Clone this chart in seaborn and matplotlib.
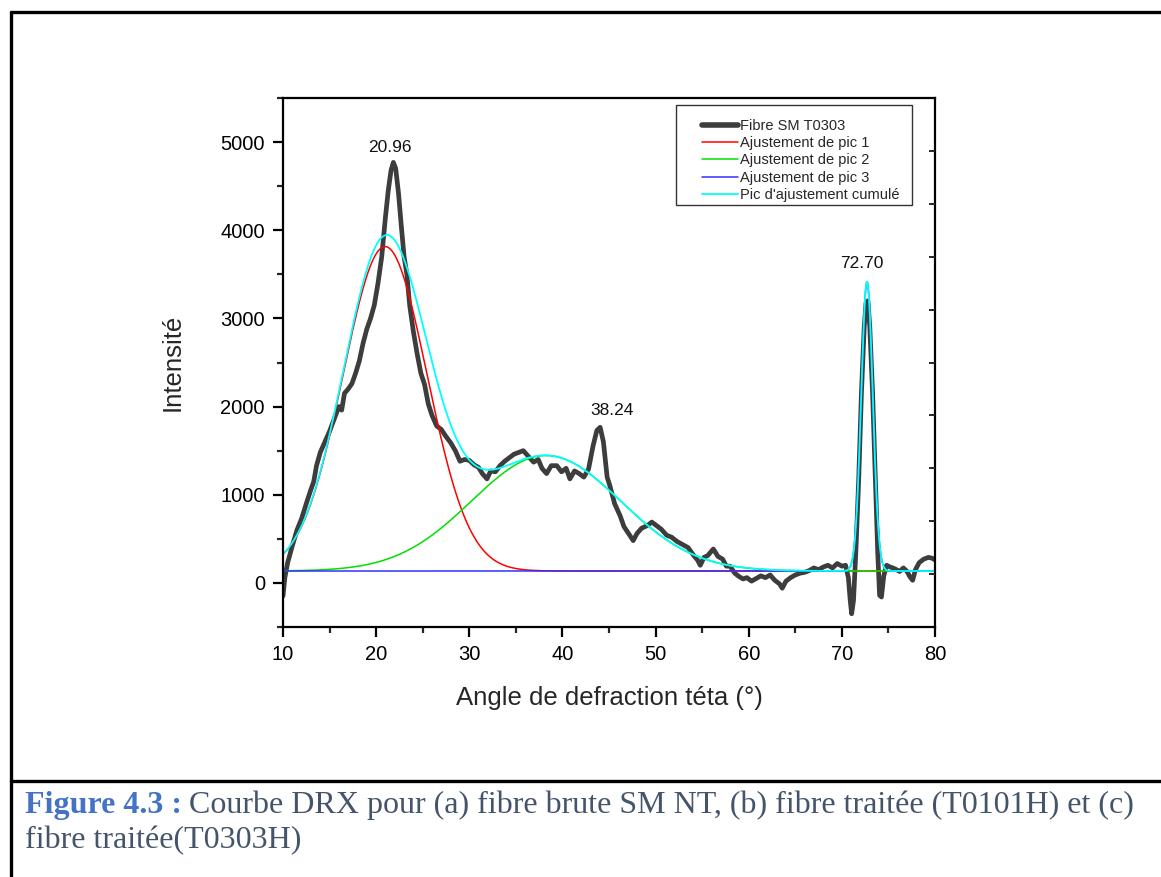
import numpy as np
import pandas as pd
import matplotlib
matplotlib.use("Agg")
import matplotlib.pyplot as plt
from matplotlib.lines import Line2D
from matplotlib.patches import Rectangle
from matplotlib.ticker import MultipleLocator
import seaborn as sns

# Measured XRD pattern (2-theta in degrees, intensity)
angle = [10.0, 10.2, 10.5, 11.0, 11.5, 12.0, 12.5, 13.0, 13.3, 13.6, 14.0, 14.5, 15.0, 15.5,
         16.0, 16.3, 16.6, 17.0, 17.4, 17.8, 18.2, 18.6, 19.0, 19.4, 19.8, 20.2, 20.6, 21.0,
         21.3, 21.6, 21.85, 22.1, 22.4, 22.7, 23.0, 23.3, 23.6, 24.0, 24.4, 24.8, 25.2, 25.6,
         26.0, 26.5, 27.0, 27.5, 28.0, 28.5, 29.0, 29.5, 30.0, 30.5, 31.0, 31.4, 31.9, 32.3,
         32.8, 33.3, 33.8, 34.3, 34.8, 35.3, 35.8, 36.3, 36.9, 37.4, 37.8, 38.3, 38.8, 39.4,
         39.9, 40.4, 40.8, 41.3, 41.8, 42.3, 42.8, 43.3, 43.7, 44.05, 44.4, 44.8, 45.1, 45.6,
         46.2, 46.6, 47.1, 47.6, 48.0, 48.5, 49.1, 49.6, 50.1, 50.6, 51.2, 51.7, 52.3, 53.0,
         53.5, 54.1, 54.5, 54.8, 55.2, 55.6, 56.2, 56.7, 57.2, 57.6, 58.0, 58.5, 59.0, 59.4,
         59.8, 60.3, 60.8, 61.3, 61.8, 62.3, 62.8, 63.3, 63.6, 64.0, 64.5, 65.0, 65.5, 66.0,
         66.5, 67.0, 67.5, 68.0, 68.5, 69.0, 69.5, 70.0, 70.4, 70.7, 70.9, 71.05, 71.25, 71.5,
         71.8, 72.1, 72.4, 72.6, 72.8, 73.0, 73.3, 73.6, 73.85, 74.05, 74.25, 74.5, 74.8, 75.2,
         75.7, 76.2, 76.6, 77.0, 77.3, 77.6, 77.9, 78.3, 78.8, 79.3, 79.7, 80.0]
intensity = [-150, 60, 230, 420, 600, 730, 900, 1060, 1150, 1330, 1480, 1600, 1720, 1860,
             2000, 1960, 2150, 2200, 2260, 2380, 2520, 2720, 2880, 3000, 3150, 3400, 3700, 4150,
             4450, 4680, 4770, 4700, 4420, 4050, 3700, 3500, 3150, 2850, 2600, 2380, 2250, 2030,
             1900, 1780, 1740, 1660, 1590, 1500, 1380, 1400, 1390, 1340, 1310, 1240, 1180, 1270,
             1260, 1330, 1380, 1420, 1460, 1480, 1500, 1440, 1370, 1400, 1300, 1240, 1330, 1330,
             1260, 1300, 1180, 1270, 1240, 1200, 1290, 1560, 1730, 1765, 1600, 1200, 1100, 900,
             760, 640, 560, 480, 560, 620, 650, 690, 650, 610, 540, 520, 470, 430,
             400, 310, 260, 200, 290, 310, 385, 300, 270, 190, 190, 110, 70, 45,
             60, 20, 50, 80, 60, 90, 30, -10, -60, 20, 60, 90, 110, 120,
             140, 170, 150, 180, 200, 170, 220, 190, 200, 60, -200, -350, -200, 350,
             1150, 2150, 2900, 3180, 3200, 2900, 2150, 1150, 350, -140, -160, 80, 200, 180,
             160, 130, 170, 130, 70, 30, 150, 230, 270, 290, 280, 260]

# Gaussian peak-fit parameters (centre, height above baseline, sigma)
peak_centres = [20.96, 38.24, 72.70]
peak_heights = [3680, 1310, 3280]
peak_sigmas = [4.5, 8.0, 0.62]
baseline = 135

series_labels = ["Fibre SM T0303", "Ajustement de pic 1", "Ajustement de pic 2",
                 "Ajustement de pic 3", "Pic d'ajustement cumulé"]
peak_label_x = [21.5, 45.3, 72.1]
peak_label_y = [4850, 1870, 3540]

x_ticks = [10, 20, 30, 40, 50, 60, 70, 80]
y_ticks = [0, 1000, 2000, 3000, 4000, 5000]
right_ticks = [100, 700, 1300, 1900, 2500, 3100, 3700, 4300, 4900]

sns.set_style("ticks")
plt.rcParams["font.family"] = ["Liberation Sans", "DejaVu Sans"]

W, H = 1161, 877
fig = plt.figure(figsize=(W / 100, H / 100), dpi=100)
ax = fig.add_axes([283 / W, 1 - 627 / H, (935 - 283) / W, (627 - 98) / H])


def ax_frac(px, py):
    return (px - 283) / 652, (627 - py) / 529


grid = np.linspace(10, 80, 1401)
components = [baseline + h * np.exp(-(grid - c) ** 2 / (2 * s ** 2))
              for c, h, s in zip(peak_centres, peak_heights, peak_sigmas)]
cumulative = baseline + sum(c - baseline for c in components)

df = pd.DataFrame({"angle": angle, "intensity": intensity})
sns.lineplot(data=df, x="angle", y="intensity", ax=ax, color="#3d3d3d", lw=3.4,
             estimator=None, sort=False, label=series_labels[0])
fit_colors = ["#ff0000", "#00e000", "#3030ff"]
for comp, col, lab in zip(components, fit_colors, series_labels[1:4]):
    sns.lineplot(x=grid, y=comp, ax=ax, color=col, lw=1.1, estimator=None, label=lab)
sns.lineplot(x=grid, y=cumulative, ax=ax, color="#00ffff", lw=1.3, estimator=None,
             label=series_labels[4])

for cx, lx, ly in zip(peak_centres, peak_label_x, peak_label_y):
    ax.text(lx, ly, f"{cx:.2f}", ha="center", va="bottom", fontsize=12.5, color="#111111")

ax.set_xlim(10, 80)
ax.set_ylim(-500, 5500)
ax.set_xticks(x_ticks)
ax.set_yticks(y_ticks)
ax.xaxis.set_minor_locator(MultipleLocator(5))
ax.yaxis.set_minor_locator(MultipleLocator(500))
ax.tick_params(axis="both", which="major", direction="out", length=7, width=1.6,
               labelsize=14.5, colors="black", pad=6)
ax.tick_params(axis="both", which="minor", direction="out", length=4.5, width=1.6)
for sp in ax.spines.values():
    sp.set_visible(True)
    sp.set_linewidth(1.6)
    sp.set_color("black")

# inward ticks on the right-hand spine
ax_r = ax.twinx()
ax_r.set_ylim(ax.get_ylim())
ax_r.set_yticks(right_ticks)
ax_r.tick_params(axis="y", direction="in", length=4, width=1.4, labelright=False)
for sp in ax_r.spines.values():
    sp.set_visible(False)

ax.set_xlabel("Angle de defraction téta (°)", fontsize=18.5, labelpad=16)
ax.set_ylabel("Intensité", fontsize=18.5, labelpad=26)

# legend: entries placed inside a separately drawn box
leg_x, leg_y = ax_frac(702, 119)
leg = ax.legend(loc="upper left", bbox_to_anchor=(leg_x, leg_y), fontsize=10.5,
                frameon=False, handlelength=2.45, handletextpad=0.15, borderpad=0,
                labelspacing=0.22, borderaxespad=0)
leg.get_lines()[0].set_linewidth(4)
bx0, by0 = ax_frac(676, 205)
bx1, by1 = ax_frac(912, 105)
ax.add_patch(Rectangle((bx0, by0), bx1 - bx0, by1 - by0, transform=ax.transAxes,
                       fill=False, edgecolor="#333333", lw=1.0, zorder=5))

# Page frame around the figure and caption
frame_kw = dict(color="black", lw=2.4, transform=fig.transFigure)
fig.add_artist(Line2D([11 / W, 11 / W], [0, 1 - 12 / H], **frame_kw))
fig.add_artist(Line2D([11 / W, 1], [1 - 12 / H, 1 - 12 / H], **frame_kw))
fig.add_artist(Line2D([11 / W, 1], [1 - 781 / H, 1 - 781 / H], **frame_kw))

# Caption
cap_font = ["Liberation Serif", "DejaVu Serif"]
cap_size = 23
renderer = fig.canvas.get_renderer()
t1 = fig.text(25 / W, 1 - 813 / H, "Figure 4.3 :", family=cap_font, fontsize=cap_size,
              fontweight="bold", color="#4472c4", va="baseline")
bb = t1.get_window_extent(renderer=renderer)
fig.text((bb.x1 + 7) / W, 1 - 813 / H,
         "Courbe DRX pour (a) fibre brute SM NT, (b) fibre traitée (T0101H) et (c)",
         family=cap_font, fontsize=cap_size, color="#44546a", va="baseline")
fig.text(25 / W, 1 - 848 / H, "fibre traitée(T0303H)", family=cap_font, fontsize=cap_size,
         color="#44546a", va="baseline")

fig.savefig("out.png", dpi=100, facecolor="white")
